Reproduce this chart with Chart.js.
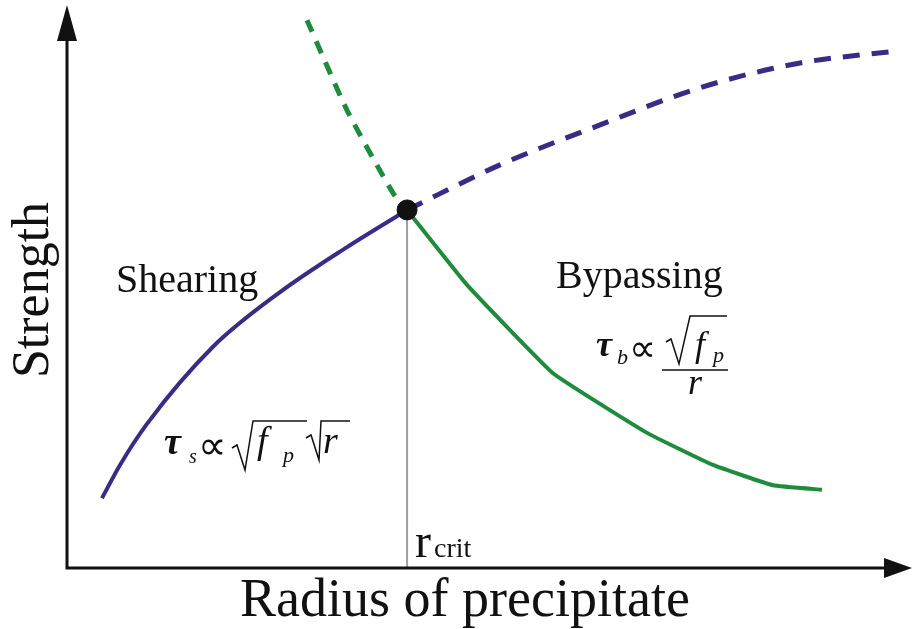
<!DOCTYPE html>
<html lang="en">
<head>
    <meta charset="UTF-8">
    <title>Precipitate strengthening</title>
    <script src="https://cdnjs.cloudflare.com/ajax/libs/Chart.js/4.4.0/chart.umd.min.js"></script>
    <style>
        html, body { margin: 0; padding: 0; background: #fff; }
        .chart-container { position: relative; width: 912px; height: 629px; }
    </style>
</head>
<body>
    <div class="chart-container">
        <canvas id="strengthChart"></canvas>
    </div>

    <script>
        // radius (arbitrary units) vs strength (arbitrary units)
        const rCrit = 4.034;
        const tauCrit = 6.36;

        const shearRadius   = [0.415, 0.629, 0.949, 1.732, 2.527, 3.322, rCrit];
        const shearStrength = [1.24, 1.83, 2.56, 3.93, 4.90, 5.70, tauCrit];

        const shearExtRadius   = [rCrit, 5.136, 6.323, 7.509, 8.695, 9.763];
        const shearExtStrength = [tauCrit, 7.16, 7.87, 8.53, 8.97, 9.17];

        const bypassExtRadius   = [2.847, 3.322, 3.867, rCrit];
        const bypassExtStrength = [9.73, 8.13, 6.66, tauCrit];

        const bypassRadius   = [rCrit, 4.745, 5.765, 6.880, 7.663, 8.375, 8.956];
        const bypassStrength = [tauCrit, 5.03, 3.46, 2.40, 1.83, 1.47, 1.39];

        const purple = '#3b2a86';
        const green = '#1f8b3d';

        const toPoints = (xs, ys) => xs.map((x, i) => ({ x: x, y: ys[i] }));

        const serif = '"Liberation Serif", "Times New Roman", serif';

        // axes with arrow heads
        const arrowAxes = {
            id: 'arrowAxes',
            afterDraw(chart) {
                const ctx = chart.ctx;
                const x0 = chart.scales.x.getPixelForValue(0);
                const y0 = chart.scales.y.getPixelForValue(0);
                ctx.save();
                ctx.strokeStyle = '#111';
                ctx.fillStyle = '#111';
                ctx.lineWidth = 3;
                ctx.beginPath();
                ctx.moveTo(x0, 30);
                ctx.lineTo(x0, y0);
                ctx.lineTo(890, y0);
                ctx.stroke();
                ctx.beginPath();
                ctx.moveTo(x0, 5);
                ctx.lineTo(x0 - 10, 41);
                ctx.lineTo(x0 + 10, 41);
                ctx.closePath();
                ctx.fill();
                ctx.beginPath();
                ctx.moveTo(912, y0);
                ctx.lineTo(884, y0 - 10);
                ctx.lineTo(884, y0 + 10);
                ctx.closePath();
                ctx.fill();
                ctx.restore();
            }
        };

        function radical(ctx, x, yTop, yBot, w, barEnd) {
            ctx.beginPath();
            ctx.moveTo(x, yBot - 22);
            ctx.lineTo(x + 5, yBot - 25);
            ctx.lineTo(x + 13, yBot);
            ctx.lineTo(x + w, yTop);
            ctx.lineTo(barEnd, yTop);
            ctx.stroke();
        }

        // titles, region names and formulas
        const labels = {
            id: 'labels',
            afterDraw(chart) {
                const ctx = chart.ctx;
                ctx.save();
                ctx.fillStyle = '#111';
                ctx.strokeStyle = '#111';
                ctx.textBaseline = 'alphabetic';

                ctx.font = '54px ' + serif;
                ctx.textAlign = 'center';
                ctx.fillText('Radius of precipitate', 465, 616);

                ctx.font = '52px ' + serif;
                ctx.save();
                ctx.translate(48, 290);
                ctx.rotate(-Math.PI / 2);
                ctx.fillText('Strength', 0, 0);
                ctx.restore();

                ctx.textAlign = 'left';
                ctx.font = '40px ' + serif;
                ctx.fillText('Shearing', 116, 292);
                ctx.fillText('Bypassing', 556, 288);

                // r_crit
                ctx.font = '48px ' + serif;
                ctx.fillText('r', 415, 557);
                ctx.font = '28px ' + serif;
                ctx.fillText('crit', 434, 557);

                ctx.lineWidth = 1.5;

                // shearing formula
                ctx.font = 'bold italic 38px ' + serif;
                ctx.fillText('τ', 164, 454);
                ctx.font = 'italic 20px ' + serif;
                ctx.fillText('s', 189, 463);
                ctx.font = '40px ' + serif;
                ctx.fillText('∝', 198, 459);
                radical(ctx, 232, 421, 470, 21, 307);
                ctx.font = 'italic 38px ' + serif;
                ctx.fillText('f', 257, 453);
                ctx.font = 'italic 22px ' + serif;
                ctx.fillText('p', 283, 462);
                radical(ctx, 306, 421, 460, 15, 350);
                ctx.font = 'italic 38px ' + serif;
                ctx.fillText('r', 323, 453);

                // bypassing formula
                ctx.font = 'bold italic 36px ' + serif;
                ctx.fillText('τ', 596, 356);
                ctx.font = 'italic 22px ' + serif;
                ctx.fillText('b', 617, 364);
                ctx.font = '38px ' + serif;
                ctx.fillText('∝', 629, 361);
                radical(ctx, 666, 316, 364, 24, 727);
                ctx.font = 'italic 36px ' + serif;
                ctx.fillText('f', 695, 356);
                ctx.font = 'italic 22px ' + serif;
                ctx.fillText('p', 713, 362);
                ctx.beginPath();
                ctx.moveTo(662, 370);
                ctx.lineTo(728, 370);
                ctx.stroke();
                ctx.font = 'italic 36px ' + serif;
                ctx.fillText('r', 688, 394);

                ctx.restore();
            }
        };

        new Chart(document.getElementById('strengthChart'), {
            type: 'scatter',
            data: {
                datasets: [
                    {
                        label: 'transition',
                        data: [{ x: rCrit, y: tauCrit }],
                        pointRadius: 10,
                        backgroundColor: '#111',
                        borderColor: '#111'
                    },
                    {
                        label: 'shearing (extrapolated)',
                        data: toPoints(shearExtRadius, shearExtStrength),
                        showLine: true,
                        borderColor: purple,
                        borderWidth: 5,
                        borderDash: [17, 12],
                        cubicInterpolationMode: 'monotone',
                        pointRadius: 0
                    },
                    {
                        label: 'bypassing (extrapolated)',
                        data: toPoints(bypassExtRadius, bypassExtStrength),
                        showLine: true,
                        borderColor: green,
                        borderWidth: 5,
                        borderDash: [13, 10],
                        tension: 0.2,
                        pointRadius: 0
                    },
                    {
                        label: 'shearing',
                        data: toPoints(shearRadius, shearStrength),
                        showLine: true,
                        borderColor: purple,
                        borderWidth: 4,
                        cubicInterpolationMode: 'monotone',
                        pointRadius: 0
                    },
                    {
                        label: 'bypassing',
                        data: toPoints(bypassRadius, bypassStrength),
                        showLine: true,
                        borderColor: green,
                        borderWidth: 4,
                        tension: 0.1,
                        pointRadius: 0
                    },
                    {
                        label: 'critical radius',
                        data: [{ x: rCrit, y: 0 }, { x: rCrit, y: tauCrit }],
                        showLine: true,
                        borderColor: '#9e9e9e',
                        borderWidth: 2,
                        pointRadius: 0
                    }
                ]
            },
            options: {
                responsive: true,
                maintainAspectRatio: false,
                animation: false,
                layout: { autoPadding: false, padding: { left: 67, right: 2, top: 5, bottom: 61 } },
                plugins: {
                    legend: { display: false },
                    tooltip: { enabled: false }
                },
                scales: {
                    x: { type: 'linear', min: 0, max: 10, display: false },
                    y: { type: 'linear', min: 0, max: 10, display: false }
                }
            },
            plugins: [arrowAxes, labels]
        });
    </script>
</body>
</html>
